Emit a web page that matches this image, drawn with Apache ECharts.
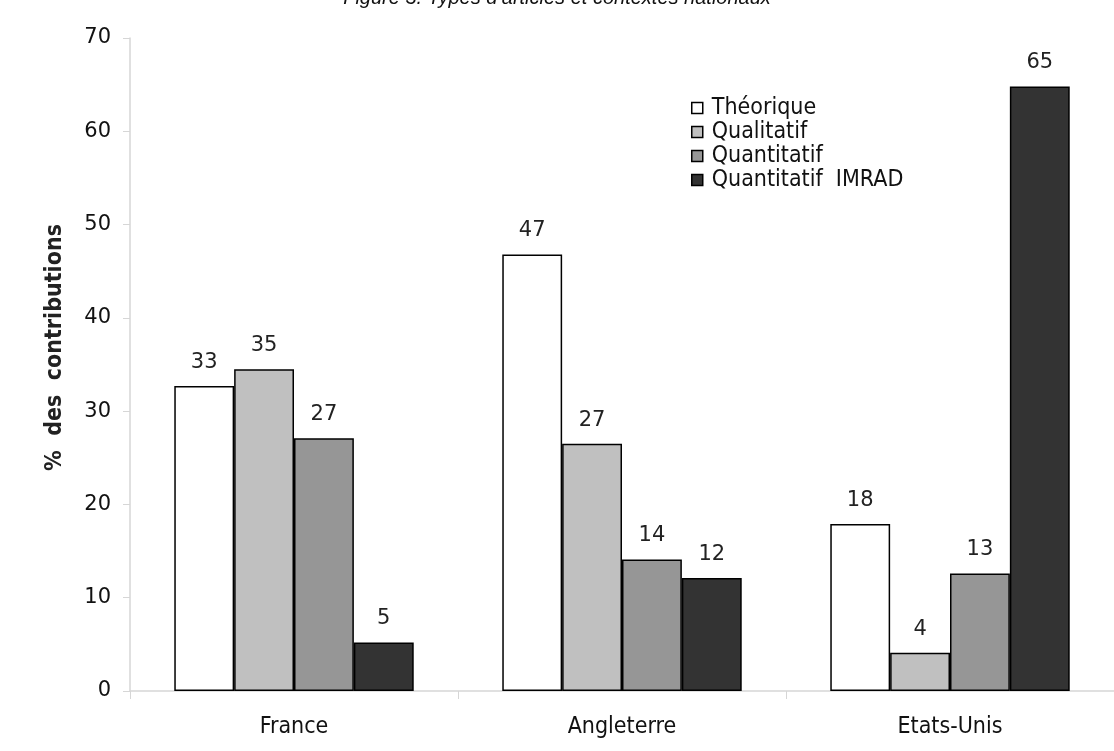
<!DOCTYPE html>
<html><head><meta charset="utf-8">
<script src="https://cdn.jsdelivr.net/npm/echarts@6/dist/echarts.min.js"></script>
<style>html,body{margin:0;padding:0;background:#fff}#c{width:1114px;height:751px}</style>
</head><body><div id="c"></div>
<script>
const categories = ['France', 'Angleterre', 'Etats-Unis'];
const seriesNames = ['Théorique', 'Qualitatif', 'Quantitatif', 'Quantitatif IMRAD'];
const theorique = [32.7, 46.8, 17.9];
const qualitatif = [34.5, 26.5, 4.1];
const quantitatif = [27.1, 14.1, 12.6];
const imrad = [5.2, 12.1, 64.8];
const yTicks = [0, 10, 20, 30, 40, 50, 60, 70];
const colors = ['#ffffff', '#c0c0c0', '#969696', '#333333'];
const values = [theorique, qualitatif, quantitatif, imrad];
const narrow = 'DejaVu Sans Condensed, Liberation Sans Narrow, Liberation Sans';

const chart = echarts.init(document.getElementById('c'));
chart.setOption({
  animation: false,
  title: {
    text: 'Figure 3. Types d\u2019articles et contextes nationaux',
    left: 'center', top: -17,
    textStyle: {fontFamily: 'Liberation Sans', fontStyle: 'italic', fontWeight: 'normal', fontSize: 20, color: '#111'}
  },
  legend: {
    orient: 'vertical', left: 686, top: 91, itemWidth: 11, itemHeight: 11, itemGap: 0,
    formatter: n => n.replace(' ', '  '),
    textStyle: {fontFamily: narrow, fontSize: 23, lineHeight: 24, color: '#111', padding: [0, 0, 0, 4]},
    itemStyle: {borderColor: '#000', borderWidth: 1.5},
    data: seriesNames.map(n => ({name: n, icon: 'rect'}))
  },
  grid: {left: 130, right: 0, top: 38, bottom: 60},
  xAxis: {
    type: 'category', data: categories,
    axisLine: {lineStyle: {color: '#d6d6d6', width: 1.5}},
    axisTick: {show: true, length: 8, lineStyle: {color: '#d6d6d6'}},
    axisLabel: {margin: 25, fontFamily: narrow, fontSize: 23, color: '#111'}
  },
  yAxis: {
    type: 'value', min: 0, max: 70, interval: 10,
    name: '%  des  contributions', nameLocation: 'middle', nameGap: 63, nameRotate: 90,
    nameTextStyle: {fontFamily: narrow, fontSize: 23, color: '#222', fontWeight: 'bold', padding: [0, 0, 0, 34]},
    axisLine: {show: true, lineStyle: {color: '#d6d6d6', width: 1.5}},
    axisTick: {show: true, length: 7, lineStyle: {color: '#d6d6d6'}},
    splitLine: {show: false},
    axisLabel: {margin: 19, fontFamily: 'DejaVu Sans', fontSize: 21, color: '#111',
      formatter: v => yTicks.includes(v) ? String(v) : ''}
  },
  series: seriesNames.map((n, i) => ({
    name: n, type: 'bar', data: values[i],
    barGap: '0%', barCategoryGap: '27%',
    itemStyle: {color: colors[i], borderColor: '#000', borderWidth: 1.5},
    label: {show: true, position: 'top', distance: 13, fontFamily: 'DejaVu Sans', fontSize: 21, color: '#222',
      formatter: p => String(Math.round(p.value))}
  }))
});
</script></body></html>
